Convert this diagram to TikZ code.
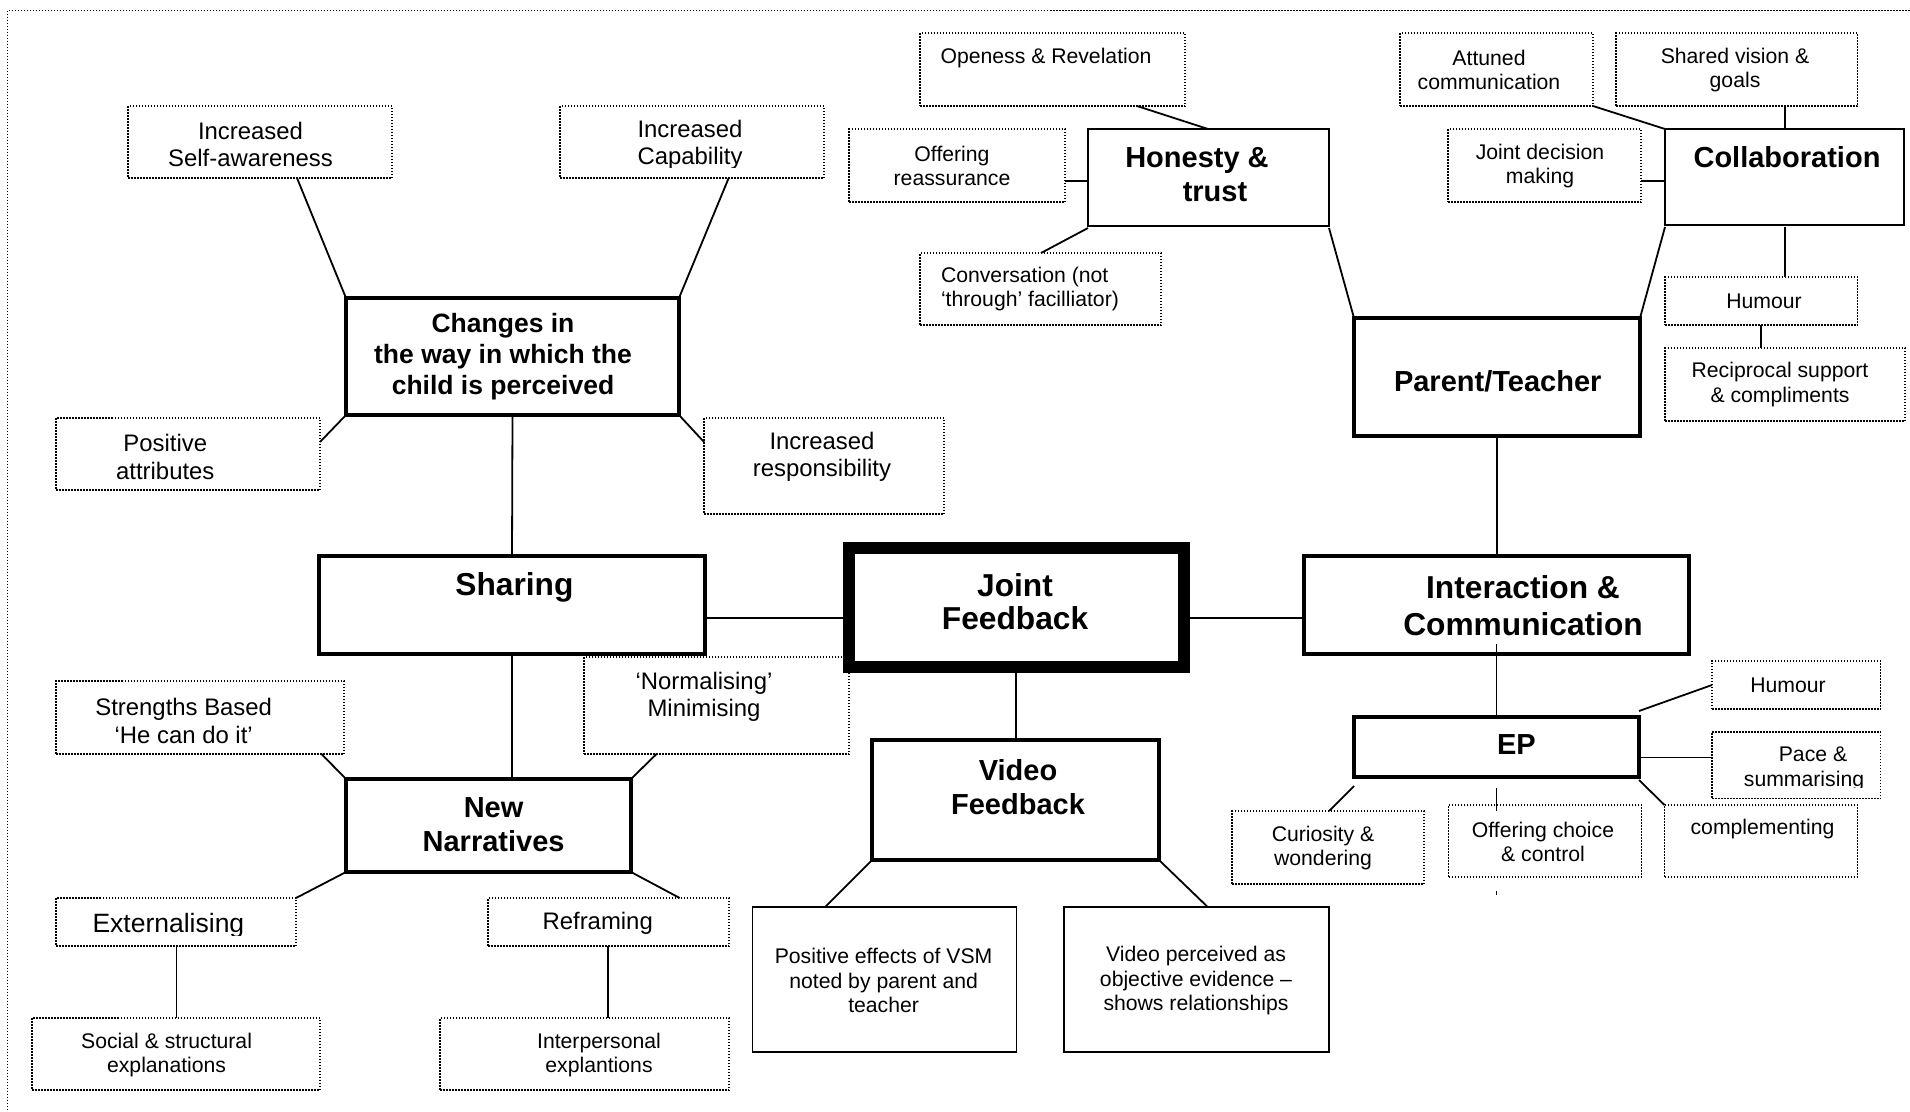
\documentclass[tikz,border=0pt]{standalone}
\usepackage{fontspec}
\setmainfont{Liberation Sans}
% box: name, style, x1, y1, x2, y2 (y grows downwards)
\newcommand\bx[6]{\node[#2, minimum width={#5-#3}, minimum height={#6-#4}] (#1) at ({(#3+#5)/2},{(#4+#6)/2}) {};}
% text: name, style, x, y, text
\newcommand\tx[5]{\node[lab,#2] (#1) at (#3,#4) {#5};}
\begin{document}
\begin{tikzpicture}[x=1pt,y=-1pt,
  dotbox/.style={draw, line width=1.5pt, dash pattern=on 1.5pt off 1.5pt, inner sep=0pt, outer sep=0pt},
  thinbox/.style={draw, line width=1.8pt, inner sep=0pt, outer sep=0pt},
  midbox/.style={draw, line width=2.6pt, inner sep=0pt, outer sep=0pt},
  thickbox/.style={draw, line width=4.5pt, inner sep=0pt, outer sep=0pt},
  heavybox/.style={draw, line width=12pt, inner sep=0pt, outer sep=0pt},
  link/.style={line width=1.8pt},
  lab/.style={align=center, inner sep=0pt, outer sep=0pt},
  fs/.style={font=\fontsize{21.2}{24.4}\selectfont},
  fl/.style={font=\fontsize{23.9}{27.5}\selectfont},
  fx/.style={font=\fontsize{26.5}{30.5}\selectfont},
  fc/.style={font=\fontsize{26.5}{31}\selectfont\bfseries},
  fb/.style={font=\fontsize{29}{33.8}\selectfont\bfseries},
  fbb/.style={font=\fontsize{31.7}{33.5}\selectfont\bfseries},
]
\useasboundingbox (0,0) rectangle (1910,1111);
\clip (0,0) rectangle (1910,1111);

% page frame
\draw[line width=1.5pt, dash pattern=on 1.5pt off 1.5pt] (7.5,10.5) rectangle (1930,1130);

% ---------- left branch: the child ----------
\bx{selfaw}{dotbox}{128}{106}{392}{178}
\bx{capab}{dotbox}{560}{106}{824}{178}
\bx{changes}{thickbox}{346}{298}{679}{415}
\bx{posattr}{dotbox}{56}{418}{320}{490}
\bx{incresp}{dotbox}{704}{418}{944}{514}
\bx{sharing}{thickbox}{319}{556}{705}{654}
\bx{strength}{dotbox}{56}{681}{344}{754}
\bx{normal}{dotbox}{584}{657}{849}{754}
\bx{nn}{thickbox}{346}{779}{631}{872}
\bx{extern}{dotbox}{56}{898}{296}{946}
\bx{refram}{dotbox}{488}{898}{729}{946}
\bx{social}{dotbox}{32}{1018}{320}{1090}
\bx{interp}{dotbox}{440}{1018}{729}{1090}

\tx{selfaw-t}{fl}{250.5}{144.6}{Increased\\Self-awareness}
\begin{scope}
  \clip (560,106) rectangle (824,167.5);
  \tx{capab-t}{fl}{690}{144.6}{Increased\\Capability}
\end{scope}
\tx{changes-t}{fc}{503}{356.6}{Changes in\\the way in which the\\child is perceived}
\tx{posattr-t}{fl}{165.3}{457}{Positive\\attributes}
\tx{incresp-t}{fl}{822}{457}{Increased\\responsibility}
\tx{sharing-t}{fbb}{514.4}{587.3}{Sharing}
\tx{strength-t}{fl}{183.7}{721}{Strengths Based\\‘He can do it’}
\tx{normal-t}{fl}{704}{697}{‘Normalising’\\Minimising}
\tx{nn-t}{fb}{493.6}{824.6}{New\\Narratives}
\begin{scope}
  \clip (56,898) rectangle (296,935.5);
  \tx{extern-t}{fx}{168.4}{925.3}{Externalising}
\end{scope}
\tx{refram-t}{fl}{597.7}{923}{Reframing}
\tx{social-t}{fs}{166.6}{1054.8}{Social \& structural\\explanations}
\tx{interp-t}{fs}{599}{1054.8}{Interpersonal\\explantions}

% ---------- centre: joint feedback and video ----------
\bx{jf}{heavybox}{848.7}{547.7}{1184}{666.7}
\bx{vf}{thickbox}{872}{740}{1159}{860}
\bx{poseff}{thinbox}{752.5}{907}{1016.4}{1051.6}
\bx{vidper}{thinbox}{1064}{907}{1329}{1051.6}

\tx{jf-t}{fbb}{1015}{601.7}{Joint\\Feedback}
\tx{vf-t}{fb}{1018}{787}{Video\\Feedback}
\tx{poseff-t}{fs}{883.6}{980.6}{Positive effects of VSM\\noted by parent and\\teacher}
\tx{vidper-t}{fs}{1196}{980.6}{Video perceived as\\objective evidence –\\shows relationships}

% ---------- upper right: parent / teacher ----------
\bx{open}{dotbox}{920}{33}{1185}{106}
\bx{offreas}{dotbox}{849}{129}{1065}{202}
\bx{hon}{midbox}{1088}{129}{1329}{226}
\bx{conv}{dotbox}{920}{253}{1161}{325}
\bx{attun}{dotbox}{1400}{33}{1593}{106}
\bx{shared}{dotbox}{1616}{33}{1857.5}{106}
\bx{jdm}{dotbox}{1448}{129}{1641}{202}
\bx{collab}{midbox}{1665}{129}{1904}{225}
\bx{humtop}{dotbox}{1665}{277}{1857.5}{325}
\bx{recip}{dotbox}{1665}{348}{1905}{421}
\bx{pt}{thickbox}{1354}{318}{1640}{436}

\tx{open-t}{fs}{1046}{58}{Openess \& Revelation}
\tx{offreas-t}{fs}{952}{165.8}{Offering\\reassurance}
\tx{hon-t}{fb}{1197}{175}{Honesty \&\\\hspace*{36pt}trust}
\node[lab,fs,align=left,anchor=west] (conv-t) at (941,289) {Conversation (not\\‘through’ facilliator)};
\tx{attun-t}{fs}{1489}{70}{Attuned\\communication}
\tx{shared-t}{fs}{1735}{70}{Shared vision \&\\goals}
\tx{jdm-t}{fs}{1540}{165.8}{Joint decision\\making}
\tx{collab-t}{fb}{1787}{157}{Collaboration}
\tx{humtop-t}{fs}{1764}{301}{Humour}
\tx{recip-t}{fs}{1780}{384.7}{Reciprocal support\\\& compliments}
\tx{pt-t}{fb}{1497.7}{381.5}{Parent/Teacher}

% ---------- lower right: interaction and EP ----------
\bx{inter}{thickbox}{1304}{556}{1689}{654}
\bx{ep}{thickbox}{1354}{717}{1639}{777}
\bx{humep}{dotbox}{1712}{661}{1880.6}{709}
\bx{pace}{dotbox}{1712}{732}{1880.6}{798.6}
\bx{curio}{dotbox}{1232}{811}{1424}{884}
\bx{offch}{dotbox}{1448.5}{805}{1641.4}{877}
\bx{compl}{dotbox}{1664.5}{805}{1857.4}{877}

\node[lab,fbb,font=\fontsize{31.7}{36.5}\selectfont\bfseries] (inter-t) at (1523,605.5) {Interaction \&\\Communication};
\tx{ep-t}{fb}{1516.4}{745}{EP}
\tx{humep-t}{fs}{1788}{685}{Humour}
\begin{scope}
  \clip (1712,732) rectangle (1880.6,787);
  \tx{pace-t}{fs}{1804}{768.7}{\hspace*{18pt}Pace \&\\summarising}
\end{scope}
\tx{curio-t}{fs}{1323}{848}{Curiosity \&\\wondering}
\tx{offch-t}{fs}{1543}{841.7}{Offering choice\\\& control}
\tx{compl-t}{fs}{1762.5}{829.5}{complementing}

% ---------- connectors ----------
\begin{scope}[link]
  \draw (selfaw.south -| 297,0) -- (changes.north west);
  \draw (capab.south -| 728.7,0) -- (changes.north east);
  \draw (changes.south west) -- (posattr.east |- 0,442);
  \draw (changes.south east) -- (incresp.west |- 0,442);
  \draw (changes.south) -- (sharing.north);
  \draw (sharing.east |- 0,618) -- (jf.west |- 0,618);
  \draw (jf.east |- 0,618) -- (inter.west |- 0,618);
  \draw (sharing.south) -- (nn.north -| sharing.south);
  \draw (strength.south -| 321.5,0) -- (nn.north west);
  \draw (normal.south -| 656.5,0) -- (nn.north east);
  \draw (nn.south west) -- (extern.north east);
  \draw (nn.south east) -- (refram.north -| 679.7,0);
  \draw (extern.south -| 176.4,0) -- (social.north -| 176.4,0);
  \draw (refram.south -| 608,0) -- (interp.north -| 608,0);

  \draw (jf.south) -- (vf.north -| jf.south);
  \draw (vf.south west) -- (poseff.north -| 825,0);
  \draw (vf.south east) -- (vidper.north -| 1207.7,0);

  \draw (open.south -| 1137,0) -- (hon.north -| 1208,0);
  \draw (offreas.east |- 0,180.7) -- (hon.west |- 0,180.7);
  \draw ([yshift=-2pt]hon.south west) -- (conv.north -| 1041,0);
  \draw ([yshift=-2pt]hon.south east) -- (pt.north west);
  \draw (attun.south east) -- (collab.north west);
  \draw (shared.south -| 1785,0) -- (collab.north -| 1785,0);
  \draw (jdm.east |- 0,180.7) -- (collab.west |- 0,180.7);
  \draw ([yshift=-2pt]collab.south west) -- (pt.north east);
  \draw ([yshift=-2pt]collab.south -| 1785,0) -- (humtop.north -| 1785,0);
  \draw (humtop.south -| 1760.7,0) -- (recip.north -| 1760.7,0);
  \draw (pt.south) -- (inter.north -| pt.south);

  \draw ([yshift=10pt]inter.south) -- (ep.north -| inter.south);
  \draw ([yshift=6pt]ep.north east) -- (humep.west |- 0,685);
  \draw (ep.east |- 0,757.4) -- (pace.west |- 0,757.4);
  \draw ([yshift=-9pt]ep.south west) -- (curio.north -| 1329,0);
  \draw ([yshift=-11pt]ep.south) -- ([yshift=-6pt]offch.north -| ep.south);
  \draw ([yshift=-3pt]ep.south east) -- (compl.north west);
\end{scope}
\coordinate (stray) at (1496,891);
\draw[line width=1pt] (stray) -- ++(0,4);

\end{tikzpicture}
\end{document}
